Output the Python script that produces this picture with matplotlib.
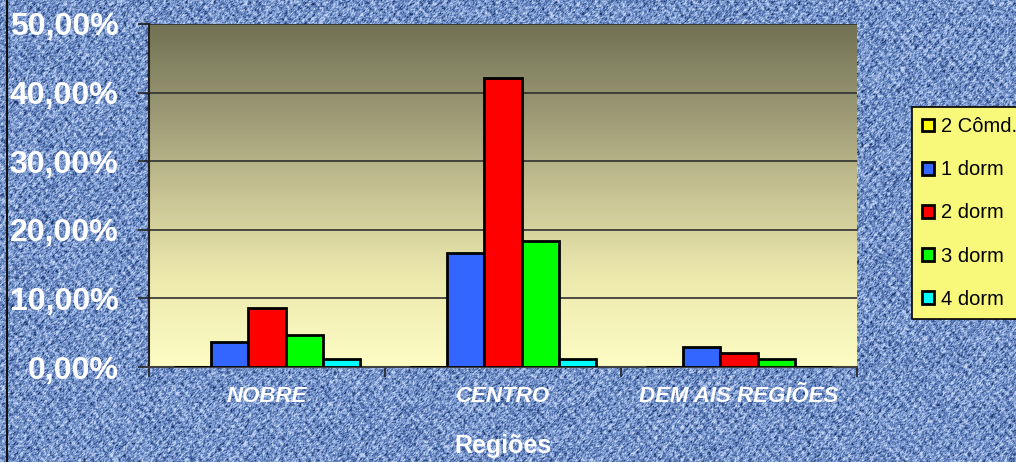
import numpy as np
import matplotlib
matplotlib.use('Agg')
import matplotlib.pyplot as plt
from matplotlib.colors import LinearSegmentedColormap

### Data

categories = ['NOBRE', 'CENTRO', 'DEM AIS REGIÕES']
series = ['2 Cômd.', '1 dorm', '2 dorm', '3 dorm', '4 dorm']
values = [
    [0.0, 0.0, 0.0],     # 2 Cômd.
    [3.7, 16.6, 2.9],    # 1 dorm
    [8.6, 42.1, 2.0],    # 2 dorm
    [4.6, 18.3, 1.1],    # 3 dorm
    [1.1, 1.1, 0.0],     # 4 dorm
]
colors = ['#ffff00', '#3366ff', '#ff0000', '#00ff00', '#00ffff']
yticks = [0, 10, 20, 30, 40, 50]

plt.rcParams['font.family'] = ['Liberation Sans', 'DejaVu Sans']

fig = plt.figure(figsize=(10.16, 4.62), dpi=100)

### Denim-like background texture (decoration only)
H, W = 462, 1016
rng = np.random.default_rng(3)
yy, xx = np.mgrid[0:H, 0:W]
weave = 0.18 * np.sin(xx * 2 * np.pi / 9.0) * np.sin(yy * 2 * np.pi / 11.0)
noise = rng.random((H, W))
noise = (noise + np.roll(noise, 1, axis=0) + np.roll(noise, 1, axis=1)) / 3
tex = np.clip(0.55 + weave + 1.1 * (noise - 0.5), 0, 1)
denim = LinearSegmentedColormap.from_list('denim', ['#1a3266', '#5272ae', '#87a4d8', '#c8d8f4'])
bg = fig.add_axes([0, 0, 1, 1], zorder=-10)
bg.imshow(tex, cmap=denim, aspect='auto', interpolation='nearest')
bg.axis('off')
bg.axvline(6, color='#101010', lw=1.5)

### Plot area
ax = fig.add_axes([149 / 1016, 95 / 462, 708 / 1016, 343 / 462])
grad = np.linspace(0, 1, 256).reshape(-1, 1)
plot_cmap = LinearSegmentedColormap.from_list('pa', ['#fcfcc4', '#eeeaae', '#c8c494', '#9a9874', '#727254'])
ax.imshow(grad, cmap=plot_cmap, aspect='auto', extent=[-0.5, 2.5, 0, 50], origin='lower', zorder=0)

for y in yticks[1:]:
    ax.axhline(y, color='#303030', lw=1.2, zorder=1)

x = np.arange(len(categories))
w = 0.157
for i, s in enumerate(series):
    ax.bar(x + (i - 2) * w, values[i], width=w, color=colors[i], edgecolor='black',
           linewidth=2, label=s, zorder=3)

ax.set_xlim(-0.5, 2.5)
ax.set_ylim(0, 50)

ax.set_yticks(yticks)
ax.set_yticklabels(['%d,00%%' % v for v in yticks], fontsize=23, fontweight='bold', color='white')
ax.tick_params(axis='y', direction='out', length=8, width=1.2, color='#202020', pad=14)

ax.set_xticks(x)
ax.set_xticklabels(categories, fontsize=16, fontweight='bold', style='italic', color='white')
ax.tick_params(axis='x', which='major', length=0, pad=14)
ax.set_xticks([-0.5, 0.5, 1.5, 2.5], minor=True)
ax.tick_params(axis='x', which='minor', direction='out', length=7, width=1.2, color='#202020')

for side in ['top', 'right']:
    ax.spines[side].set_visible(False)
ax.spines['left'].set_color('#202020')
ax.spines['left'].set_linewidth(1.5)
ax.spines['bottom'].set_color('#404040')
ax.spines['bottom'].set_linewidth(1.5)

fig.text(503 / 1016, 1 - 446 / 462, 'Regiões', fontsize=18, fontweight='bold', color='white',
         ha='center', va='center')

leg = fig.legend(loc='upper left', bbox_to_anchor=(912 / 1016, 1 - 107 / 462), fontsize=14.5,
                 frameon=True, fancybox=False, handlelength=0.6, handleheight=0.6,
                 handletextpad=0.35, labelspacing=1.2, borderpad=0.5, borderaxespad=0)
leg.get_frame().set_facecolor('#f8f87a')
leg.get_frame().set_edgecolor('black')
leg.get_frame().set_linewidth(1.2)
leg.get_frame().set_alpha(1)

fig.savefig('out.png', dpi=100)
